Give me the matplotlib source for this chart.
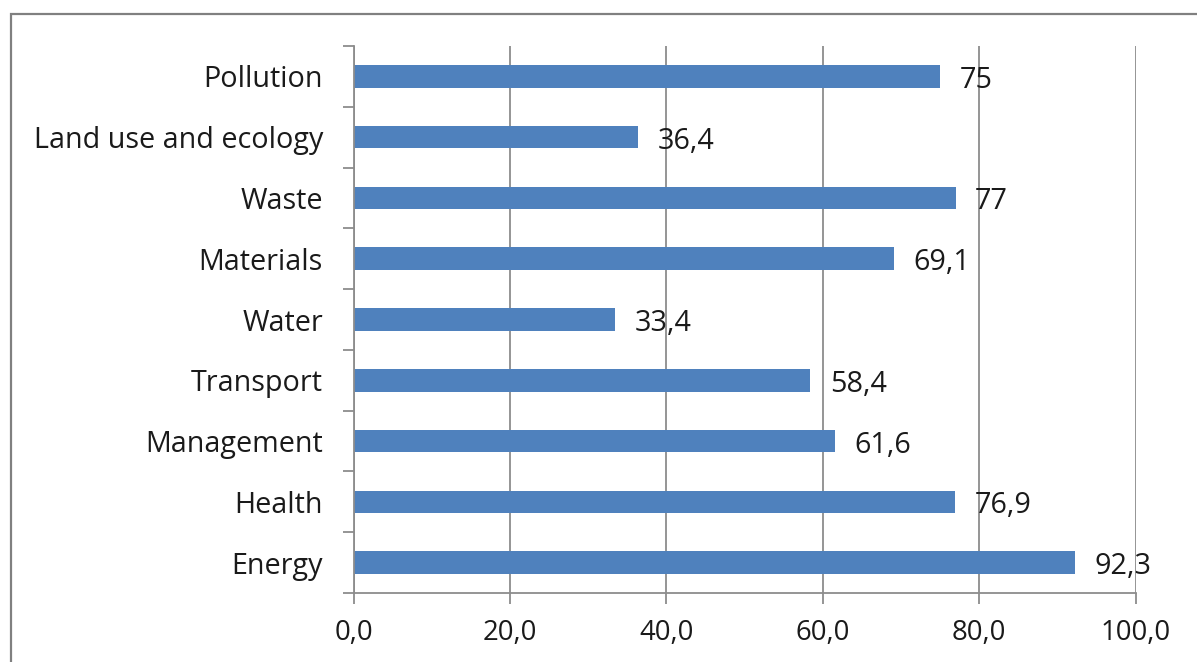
import matplotlib
matplotlib.use("Agg")
import matplotlib.pyplot as plt
from matplotlib.patches import Rectangle
from matplotlib.ticker import FixedLocator, FuncFormatter

categories = ["Pollution", "Land use and ecology", "Waste", "Materials", "Water",
              "Transport", "Management", "Health", "Energy"]
values = [75, 36.4, 77, 69.1, 33.4, 58.4, 61.6, 76.9, 92.3]
x_ticks = [0, 20, 40, 60, 80, 100]

BAR = "#4F81BD"
GRID = "#8C8C8C"
TEXT = "#1A1A1A"
FONT = "Open Sans"
FS = 20.7
FS_X = 19.8

W, H = 1197, 662
fig = plt.figure(figsize=(W / 100, H / 100), dpi=100)
fig.patch.set_facecolor("white")

# outer chart frame (open on the right and bottom edges of the image)
fig.patches.append(Rectangle((10.5 / W, -0.1), 1.2, (H - 13.5) / H + 0.1,
                             transform=fig.transFigure, fill=False,
                             edgecolor="#808080", linewidth=1.6))

ax = fig.add_axes([353.5 / W, 1 - 593 / H, (1135.7 - 353.5) / W, (593 - 46) / H])

n = len(categories)
ypos = list(range(n))[::-1]
ax.barh(ypos, values, height=0.37, color=BAR, zorder=3)

ax.set_xlim(0, 100)
ax.set_ylim(-0.5, n - 0.5)

ax.xaxis.set_major_locator(FixedLocator(x_ticks))
ax.xaxis.set_major_formatter(FuncFormatter(lambda v, p: f"{v:.1f}".replace(".", ",")))
ax.grid(axis="x", color=GRID, linewidth=1.3, zorder=0)
ax.tick_params(axis="x", length=8, width=1.3, color=GRID, pad=11,
               labelsize=FS_X, labelcolor=TEXT)

# category boundary ticks (unlabelled) and centred labels
ax.yaxis.set_major_locator(FixedLocator([i - 0.5 for i in range(n + 1)]))
ax.yaxis.set_major_formatter(FuncFormatter(lambda v, p: ""))
ax.yaxis.set_minor_locator(FixedLocator(ypos))
ax.set_yticks(ypos, categories, minor=True)
ax.tick_params(axis="y", which="major", length=8, width=1.3, color=GRID)
ax.tick_params(axis="y", which="minor", length=0, pad=22,
               labelsize=FS, labelcolor=TEXT)

for s in ["top", "right"]:
    ax.spines[s].set_visible(False)
for s in ["left", "bottom"]:
    ax.spines[s].set_color(GRID)
    ax.spines[s].set_linewidth(1.3)
    ax.spines[s].set_zorder(4)

for lab in ax.get_xticklabels() + ax.get_yticklabels(minor=True):
    lab.set_fontfamily(FONT)

for y, v in zip(ypos, values):
    txt = f"{v:g}".replace(".", ",")
    ax.annotate(txt, (v, y), xytext=(14, -8.3), textcoords="offset points",
                va="baseline", ha="left", fontsize=FS, color=TEXT,
                fontfamily=FONT, zorder=5)

fig.savefig("out.png", dpi=100, facecolor="white")
